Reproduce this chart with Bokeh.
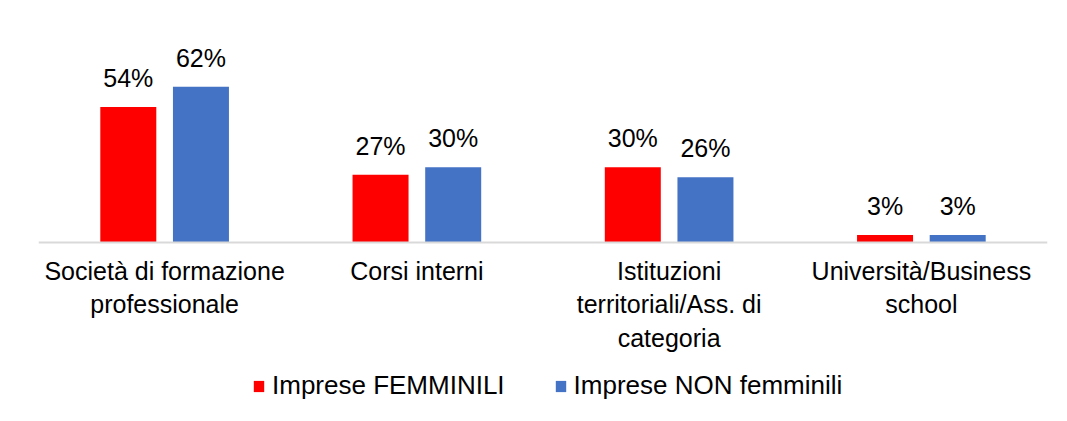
from bokeh.plotting import figure
from bokeh.models import FactorRange, Range1d, Span, Legend, LegendItem, ColumnDataSource
from bokeh.transform import dodge
from bokeh.core.properties import value
from bokeh.embed import file_html
from bokeh.resources import INLINE

categories = [
    "Società di formazione\nprofessionale",
    "Corsi interni",
    "Istituzioni\nterritoriali/Ass. di\ncategoria",
    "Università/Business\nschool",
]
femminili = [54, 27, 30, 3]
non_femminili = [62, 30, 26, 3]
series_names = ["Imprese FEMMINILI", "Imprese NON femminili"]
colors = ["#FF0000", "#4472C4"]

FONT = "Liberation Sans"

src = ColumnDataSource(dict(
    cat=categories,
    f=femminili,
    nf=non_femminili,
    f_lbl=[f"{v}%" for v in femminili],
    nf_lbl=[f"{v}%" for v in non_femminili],
    zero=[0] * len(categories),
))

p = figure(
    width=1051, height=405,
    x_range=FactorRange(*categories),
    y_range=Range1d(-64.9, 88.4),
    x_axis_type=None, y_axis_type=None,
    output_backend="svg", toolbar_location=None,
    min_border_left=38, min_border_right=4,
    min_border_top=20, min_border_bottom=0,
)
p.outline_line_color = None
p.xgrid.visible = False
p.ygrid.visible = False
p.background_fill_color = "white"
p.border_fill_color = "white"

off = 0.144
bw = 0.222
r1 = p.vbar(x=dodge("cat", -off, range=p.x_range), top="f", width=bw, source=src,
            fill_color=colors[0], line_color=None)
r2 = p.vbar(x=dodge("cat", off, range=p.x_range), top="nf", width=bw, source=src,
            fill_color=colors[1], line_color=None)

p.add_layout(Span(location=0, dimension="width", line_color="#d9d9d9", line_width=2))

p.text(x=dodge("cat", -off, range=p.x_range), y="f", text="f_lbl", source=src,
       text_font=value(FONT), text_font_size="25px", text_color="#000000",
       text_align="center", text_baseline="alphabetic", y_offset=-29)
p.text(x=dodge("cat", off, range=p.x_range), y="nf", text="nf_lbl", source=src,
       text_font=value(FONT), text_font_size="25px", text_color="#000000",
       text_align="center", text_baseline="alphabetic", y_offset=-29)

p.text(x="cat", y="zero", text="cat", source=src,
       text_font=value(FONT), text_font_size="25px", text_color="#000000",
       text_align="center", text_baseline="top", text_line_height=1.2, y_offset=14)

legend = Legend(items=[
    LegendItem(label=series_names[0], renderers=[r1]),
    LegendItem(label=series_names[1], renderers=[r2]),
], orientation="horizontal", location=(214, 4))
legend.label_text_font = FONT
legend.label_text_font_size = "26px"
legend.label_text_color = "#000000"
legend.glyph_width = 13
legend.glyph_height = 14
legend.label_standoff = 7
legend.spacing = 49
legend.padding = 0
legend.margin = 0
legend.border_line_color = None
legend.background_fill_alpha = 0
p.add_layout(legend)

open("out.html", "w").write(file_html(p, INLINE))
